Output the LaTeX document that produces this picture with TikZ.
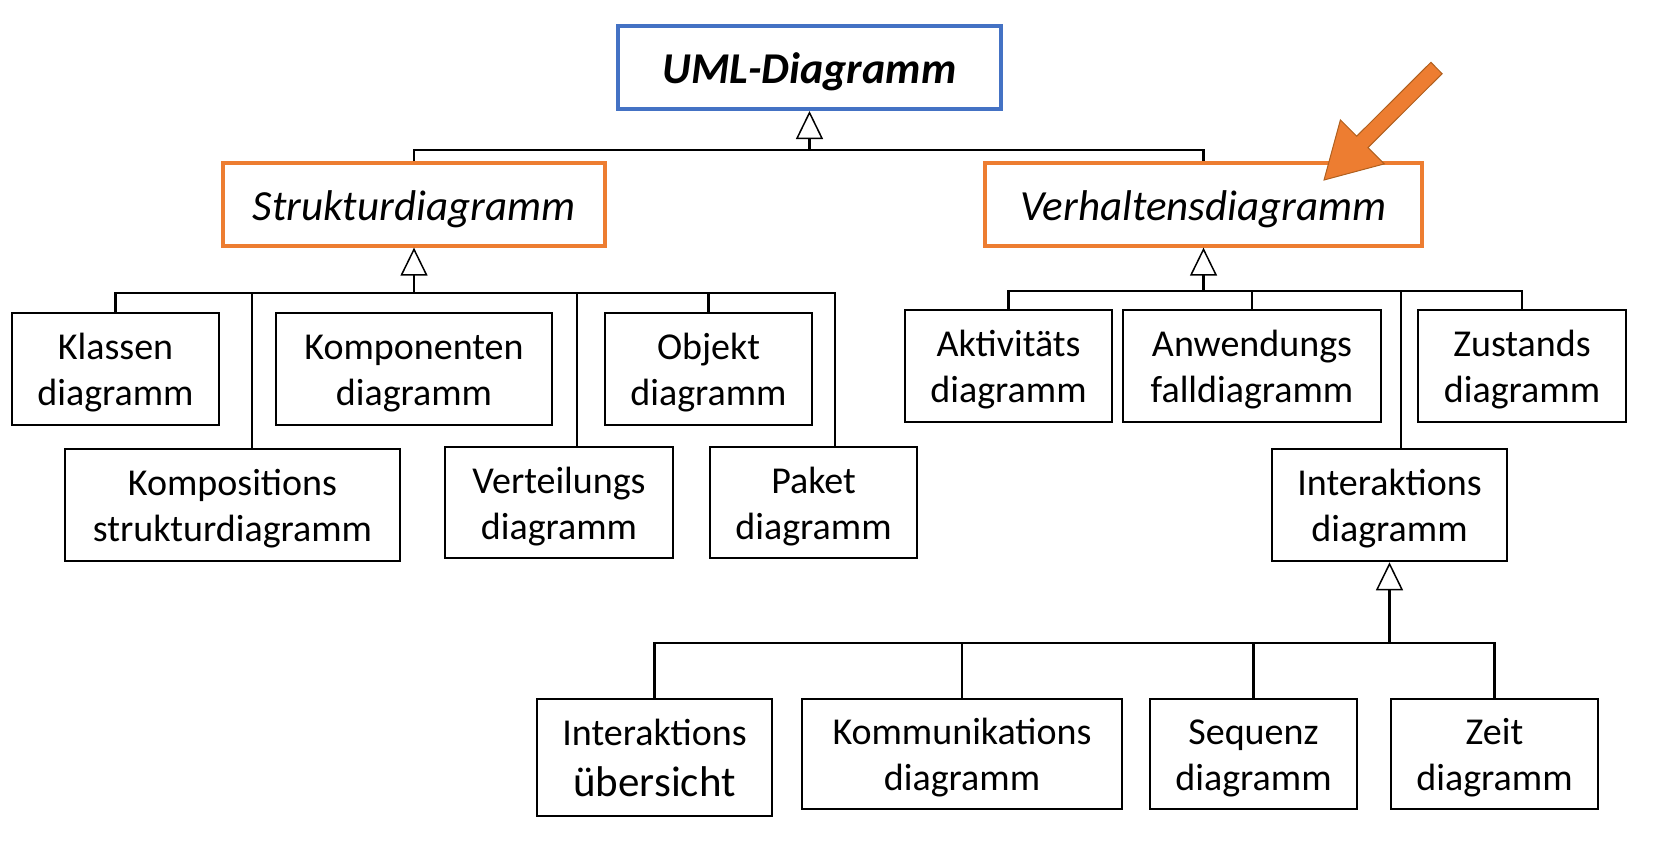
\documentclass[tikz,border=0pt]{standalone}
\usepackage{fontspec}
\setmainfont{Carlito}
\usetikzlibrary{arrows.meta,calc}
\definecolor{umlblue}{HTML}{4472C4}
\definecolor{umlorange}{HTML}{ED7D31}
\definecolor{arrowedge}{HTML}{B0601F}
\newcommand{\firstup}{\rule{0pt}{0.9em}}
\begin{document}
\begin{tikzpicture}[x=1pt,y=-1pt,
  box/.style={draw=black, line width=2.5pt, inner sep=0pt, align=center,
    font=\fontsize{38}{46}\selectfont},
  title/.style={line width=3.3pt, inner sep=0pt, minimum height=83pt,
    execute at begin node={\firstup},
    font=\fontsize{43}{50}\selectfont\itshape},
  conn/.style={line width=2.4pt},
  gen/.style={conn, -{Triangle[open, width=27pt, length=28pt, line width=1.5pt, fill=white]}},
]
\useasboundingbox (0,0) rectangle (1656,841);

% top level
\node[title, draw=umlblue, line width=4pt, minimum width=383pt,
  font=\fontsize{44}{50}\selectfont\bfseries\itshape] (uml) at (809.5,67.5) {UML-Diagramm};
\node[title, draw=umlorange, minimum width=382pt] (strukt) at (414,204.5) {Strukturdiagramm};
\node[title, draw=umlorange, minimum width=437pt] (verh) at (1203.5,204.5) {Verhaltensdiagramm};

% structure diagrams
\node[box, minimum width=207pt, minimum height=112pt] (klassen) at (115.5,369) {\firstup Klassen\\diagramm};
\node[box, minimum width=276pt, minimum height=112pt] (kompo) at (414,369) {\firstup Komponenten\\diagramm};
\node[box, minimum width=207pt, minimum height=112pt] (objekt) at (708.5,369) {\firstup Objekt\\diagramm};
\node[box, minimum width=335pt, minimum height=112pt] (komposition) at (232.5,505) {\firstup Kompositions\\strukturdiagramm};
\node[box, minimum width=228pt, minimum height=111pt] (verteil) at (559,502.5) {\firstup Verteilungs\\diagramm};
\node[box, minimum width=207pt, minimum height=111pt] (paket) at (813.5,502.5) {\firstup Paket\\diagramm};

% behaviour diagrams
\node[box, minimum width=207pt, minimum height=112pt] (aktiv) at (1008.5,366) {\firstup Aktivitäts\\diagramm};
\node[box, minimum width=258pt, minimum height=112pt] (anwend) at (1252,366) {\firstup Anwendungs\\falldiagramm};
\node[box, minimum width=208pt, minimum height=112pt] (zustand) at (1522,366) {\firstup Zustands\\diagramm};
\node[box, minimum width=235pt, minimum height=112pt] (interakt) at (1389.5,505) {\firstup Interaktions\\diagramm};

% interaction diagrams
\node[box, minimum width=235pt, minimum height=117pt] (uebers) at (654.5,757.5) {Interaktions\\[5pt]{\fontsize{43}{46}\selectfont übersicht}};
\node[box, minimum width=320pt, minimum height=110pt] (kommun) at (962,754) {\firstup Kommunikations\\diagramm};
\node[box, minimum width=207pt, minimum height=110pt] (sequenz) at (1253.5,754) {\firstup Sequenz\\diagramm};
\node[box, minimum width=207pt, minimum height=110pt] (zeit) at (1494.5,754) {\firstup Zeit\\diagramm};

% bus levels
\coordinate (ub) at (0,150);
\coordinate (sb) at (0,293);
\coordinate (vb) at (0,291);
\coordinate (ib) at (0,643);

% UML level
\draw[conn] (strukt.north) -- (strukt.north |- ub) -- (verh.north |- ub) -- (verh.north);
\draw[gen] (uml.south |- ub) -- (uml.south);

% structure level
\coordinate (kompoX) at ($(komposition.north)+(19.5,0)$);
\coordinate (verteilX) at ($(verteil.north)+(18,0)$);
\coordinate (paketX) at ($(paket.north)+(21.5,0)$);
\draw[conn] (klassen.north) -- (klassen.north |- sb) -- (paketX |- sb) -- (paketX);
\draw[conn] (kompoX) -- (kompoX |- sb);
\draw[conn] (verteilX) -- (verteilX |- sb);
\draw[conn] (objekt.north) -- (objekt.north |- sb);
\draw[gen] (strukt.south |- sb) -- (strukt.south);

% behaviour level
\coordinate (interX) at ($(interakt.north)+(11.5,0)$);
\draw[conn] (aktiv.north) -- (aktiv.north |- vb) -- (zustand.north |- vb) -- (zustand.north);
\draw[conn] (anwend.north) -- (anwend.north |- vb);
\draw[conn] (interX) -- (interX |- vb);
\draw[gen] (verh.south |- vb) -- (verh.south);

% interaction level
\draw[conn] (uebers.north) -- (uebers.north |- ib) -- (zeit.north |- ib) -- (zeit.north);
\draw[conn] (kommun.north) -- (kommun.north |- ib);
\draw[conn] (sequenz.north) -- (sequenz.north |- ib);
\draw[gen] (interakt.south |- ib) -- (interakt.south);

% orange pointer arrow
\filldraw[fill=umlorange, draw=arrowedge, line width=1pt, line join=miter]
  (1430.9,62.3) -- (1442.1,73.7) -- (1368,147.6) -- (1384.2,163.9)
  -- (1324,180) -- (1340.4,119.9) -- (1356.7,136.2) -- cycle;
\end{tikzpicture}
\end{document}
